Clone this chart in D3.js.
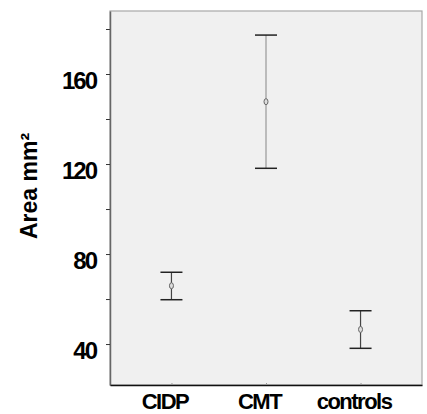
<!DOCTYPE html>
<html>
<head>
<meta charset="utf-8">
<style>
body { margin: 0; background: #fff; }
text { font-family: "Liberation Sans", Arial, sans-serif; font-weight: bold; fill: #000; }
</style>
</head>
<body>
<svg id="chart" width="427" height="414"></svg>
<script src="https://d3js.org/d3.v7.min.js"></script>
<script>
// values (mean and error bar limits)
var groups = ["CIDP", "CMT", "controls"];
var means = [65.9, 147.7, 46.5];
var lower = [59.7, 118.1, 38.1];
var upper = [71.9, 177.3, 54.8];
var yTicks = [40, 80, 120, 160];
var yMinor = [60, 100, 140, 180];

var svg = d3.select("#chart"),
  margin = { top: 11, right: 5, bottom: 29, left: 110 },
  width = +svg.attr("width") - margin.left - margin.right,
  height = +svg.attr("height") - margin.top - margin.bottom;

var x = d3.scalePoint().domain(groups).range([0, width]).padding(0.65);
var y = d3.scaleLinear().domain([21.8, 188]).range([height, 0]);

var g = svg.append("g")
  .attr("transform", "translate(" + margin.left + "," + margin.top + ")");

// plot background + light frame
g.append("rect")
  .attr("width", width)
  .attr("height", height)
  .attr("fill", "#f0f0f0")
  .attr("stroke", "#a8a8a8")
  .attr("stroke-width", 1.2);

// minor ticks
g.append("g")
  .call(d3.axisLeft(y).tickValues(yMinor).tickSize(4).tickFormat(""))
  .call(a => a.select(".domain").remove())
  .selectAll("line").attr("stroke", "#333");

// y axis
var yAxis = g.append("g")
  .call(d3.axisLeft(y).tickValues(yTicks).tickSize(4).tickPadding(10).tickSizeOuter(0));
yAxis.select(".domain").attr("stroke", "#666").attr("stroke-width", 1.5);
yAxis.selectAll("line").attr("stroke", "#333");
yAxis.selectAll("text")
  .attr("dy", "0.62em")
  .style("font-size", "24px")
  .style("letter-spacing", "-2px")
  .attr("fill", "#000");

// x axis
var xAxis = g.append("g")
  .attr("transform", "translate(0," + height + ")")
  .call(d3.axisBottom(x).tickSize(-2).tickPadding(8).tickSizeOuter(0));
xAxis.select(".domain").attr("stroke", "#111").attr("stroke-width", 1.5);
xAxis.selectAll("line").attr("stroke", "#999");
xAxis.selectAll("text")
  .attr("dx", "-7")
  .attr("dy", "16")
  .style("font-size", "22px")
  .style("letter-spacing", "-1.5px")
  .attr("fill", "#000");

// y title
svg.append("text")
  .attr("transform", "translate(37,186) rotate(-90)")
  .attr("text-anchor", "middle")
  .style("font-size", "23px")
  .text("Area mm²");

// error bars
var bars = g.selectAll(".bar")
  .data(groups)
  .enter().append("g")
  .attr("class", "bar");

bars.append("line")
  .attr("x1", d => x(d)).attr("x2", d => x(d))
  .attr("y1", (d, i) => y(upper[i]))
  .attr("y2", (d, i) => y(lower[i]))
  .attr("stroke", d => d === "CMT" ? "#aaa" : "#444")
  .attr("stroke-width", d => d === "CMT" ? 1.5 : 1.2);

bars.append("line")
  .attr("x1", d => x(d) - 11).attr("x2", d => x(d) + 11)
  .attr("y1", (d, i) => y(upper[i]))
  .attr("y2", (d, i) => y(upper[i]))
  .attr("stroke", "#222")
  .attr("stroke-width", 1.5);

bars.append("line")
  .attr("x1", d => x(d) - 11).attr("x2", d => x(d) + 11)
  .attr("y1", (d, i) => y(lower[i]))
  .attr("y2", (d, i) => y(lower[i]))
  .attr("stroke", "#222")
  .attr("stroke-width", 1.5);

bars.append("ellipse")
  .attr("cx", d => x(d))
  .attr("cy", (d, i) => y(means[i]))
  .attr("rx", 2)
  .attr("ry", 3)
  .attr("fill", "#ddd")
  .attr("stroke", "#666")
  .attr("stroke-width", 1);
</script>
</body>
</html>
